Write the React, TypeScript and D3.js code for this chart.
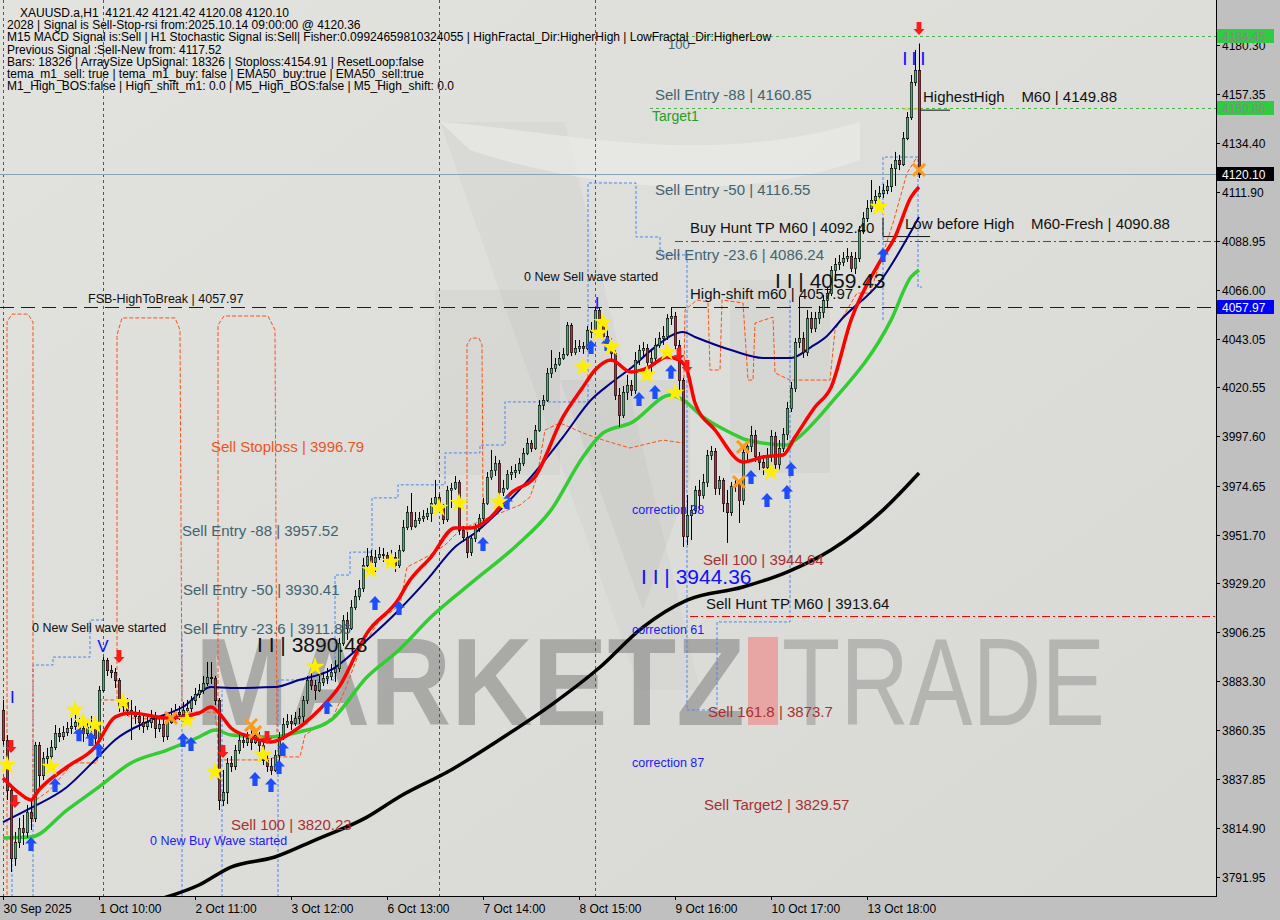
import React from 'react';
import * as d3 from 'd3';

// ---------- DATA ----------
const symbolInfo = [
  'XAUUSD.a,H1  4121.42 4121.42 4120.08 4120.10',
  '2028 | Signal is Sell-Stop-rsi from:2025.10.14 09:00:00 @ 4120.36',
  'M15 MACD Signal is:Sell | H1 Stochastic Signal is:Sell| Fisher:0.09924659810324055 | HighFractal_Dir:HigherHigh | LowFractal_Dir:HigherLow',
  'Previous Signal :Sell-New from: 4117.52',
  'Bars: 18326 | ArraySize UpSignal: 18326 | Stoploss:4154.91 | ResetLoop:false',
  'tema_m1_sell: true | tema_m1_buy: false | EMA50_buy:true | EMA50_sell:true',
  'M1_High_BOS:false | High_shift_m1: 0.0 | M5_High_BOS:false | M5_High_shift: 0.0',
];

const openFirst = 3869.9;
const closes = [
  3855.9, 3832.6, 3800.8, 3808.3, 3814.8, 3813.0, 3822.3, 3819.5, 3853.6, 3839.6,
  3847.5, 3848.4, 3852.6, 3859.2, 3857.8, 3859.6, 3861.5, 3862.4, 3864.3, 3861.5,
  3859.2, 3862.0, 3863.4, 3856.8, 3879.2, 3893.2, 3888.6, 3887.6, 3883.9, 3871.8,
  3873.6, 3869.9, 3869.0, 3867.1, 3864.3, 3862.4, 3864.3, 3866.2, 3861.5, 3863.4,
  3857.8, 3864.3, 3867.1, 3869.0, 3868.0, 3869.9, 3870.8, 3874.6, 3877.4, 3879.2,
  3882.5, 3885.3, 3884.8, 3874.6, 3827.9, 3831.6, 3845.2, 3843.8, 3851.2, 3855.9,
  3855.0, 3856.8, 3855.0, 3858.2, 3853.6, 3846.6, 3843.8, 3841.9, 3848.9, 3857.3,
  3863.4, 3864.8, 3863.8, 3866.2, 3867.1, 3874.6, 3883.9, 3881.6, 3879.2, 3883.0,
  3884.8, 3885.8, 3887.6, 3889.5, 3901.2, 3911.9, 3908.2, 3918.0, 3923.1, 3926.9,
  3937.6, 3941.8, 3939.0, 3941.3, 3942.7, 3942.3, 3939.9, 3941.3, 3937.6, 3944.6,
  3955.3, 3962.3, 3955.8, 3958.6, 3959.5, 3960.5, 3961.9, 3966.5, 3969.3, 3965.1,
  3959.1, 3972.6, 3973.5, 3976.3, 3953.9, 3950.6, 3943.6, 3950.2, 3954.8, 3959.5,
  3966.5, 3978.7, 3981.9, 3985.2, 3971.7, 3973.5, 3980.1, 3981.0, 3981.9, 3985.2,
  3989.9, 3994.5, 3992.2, 4000.6, 4012.3, 4014.6, 4027.2, 4029.5, 4031.4, 4034.2,
  4036.1, 4049.6, 4037.0, 4038.9, 4039.8, 4038.9, 4047.3, 4046.3, 4056.6, 4051.0,
  4044.5, 4041.2, 4036.5, 4016.9, 4007.6, 4018.3, 4021.6, 4019.3, 4033.3, 4037.9,
  4038.9, 4032.3, 4034.2, 4040.3, 4043.5, 4044.5, 4052.9, 4053.8, 4040.3, 4023.9,
  3951.1, 3960.9, 3963.2, 3972.6, 3970.3, 3976.3, 3988.9, 3990.8, 3973.5, 3977.3,
  3966.5, 3962.3, 3974.5, 3975.4, 3967.9, 3990.3, 3993.1, 3998.3, 3988.5, 3985.7,
  3983.3, 3988.9, 3997.8, 3984.7, 3992.2, 3998.7, 4010.9, 4020.2, 4041.7, 4043.5,
  4037.0, 4052.9, 4048.2, 4052.9, 4055.7, 4061.3, 4064.5, 4075.3, 4078.1, 4079.0,
  4080.9, 4081.8, 4076.2, 4080.9, 4093.5, 4099.5, 4104.2, 4107.9, 4109.8, 4111.2,
  4112.6, 4114.5, 4122.9, 4126.6, 4124.8, 4136.9, 4146.7, 4163.0, 4168.6, 4120.1,
];
const highs = [
  3874.6, 3858.2, 3834.9, 3813.0, 3819.5, 3820.9, 3825.6, 3827.9, 3855.0, 3855.0,
  3850.3, 3852.2, 3855.9, 3862.9, 3861.5, 3862.4, 3864.3, 3866.2, 3867.6, 3866.2,
  3864.3, 3865.2, 3867.1, 3865.2, 3881.1, 3894.6, 3894.2, 3890.9, 3889.5, 3884.8,
  3876.9, 3875.5, 3874.6, 3871.8, 3869.9, 3867.1, 3868.0, 3869.9, 3869.0, 3867.1,
  3866.2, 3867.1, 3870.8, 3872.7, 3871.8, 3873.6, 3874.6, 3876.4, 3880.2, 3882.0,
  3885.8, 3892.3, 3892.3, 3885.8, 3875.5, 3841.9, 3847.5, 3848.4, 3853.6, 3858.2,
  3857.8, 3859.6, 3860.6, 3861.5, 3859.6, 3855.9, 3850.3, 3847.5, 3851.2, 3859.6,
  3866.2, 3868.0, 3867.6, 3869.0, 3870.8, 3876.4, 3885.8, 3888.6, 3883.9, 3885.8,
  3887.6, 3889.5, 3891.4, 3893.2, 3903.5, 3914.2, 3915.6, 3921.2, 3925.9, 3930.6,
  3940.9, 3945.5, 3944.6, 3944.6, 3946.0, 3945.5, 3943.6, 3944.6, 3943.6, 3946.9,
  3958.6, 3965.1, 3971.2, 3962.3, 3962.3, 3963.2, 3964.2, 3968.9, 3977.3, 3970.7,
  3966.1, 3974.5, 3975.9, 3979.1, 3977.3, 3955.8, 3953.0, 3951.6, 3956.7, 3961.4,
  3968.9, 3981.0, 3991.3, 3988.5, 3986.6, 3977.3, 3981.9, 3983.8, 3984.7, 3987.5,
  3992.2, 3996.9, 3995.9, 4002.9, 4014.6, 4016.9, 4029.5, 4037.9, 4034.2, 4037.0,
  4038.9, 4051.0, 4050.5, 4042.6, 4042.6, 4041.7, 4049.1, 4051.0, 4058.0, 4057.5,
  4052.9, 4047.3, 4043.5, 4037.9, 4020.2, 4021.1, 4026.3, 4023.9, 4037.0, 4040.3,
  4041.7, 4040.7, 4037.9, 4043.5, 4046.3, 4049.1, 4054.7, 4058.0, 4055.7, 4042.6,
  4024.9, 3970.3, 3965.6, 3974.5, 3977.3, 3980.1, 3991.3, 3993.1, 3992.2, 3979.1,
  3978.2, 3972.6, 3976.3, 3978.2, 3977.3, 3992.2, 3995.9, 4002.5, 4000.6, 3990.3,
  3988.9, 3992.2, 4000.6, 3999.7, 3995.9, 4001.5, 4013.7, 4023.0, 4043.5, 4062.7,
  4046.3, 4056.6, 4055.7, 4055.7, 4058.5, 4063.6, 4066.9, 4077.1, 4080.9, 4082.3,
  4083.7, 4085.5, 4083.7, 4083.7, 4095.8, 4102.3, 4107.9, 4117.3, 4112.6, 4114.5,
  4115.4, 4117.3, 4124.8, 4130.4, 4129.0, 4139.7, 4149.0, 4166.3, 4178.0, 4181.0,
];
const lows = [
  3853.6, 3827.9, 3794.3, 3797.1, 3805.5, 3806.9, 3810.2, 3813.9, 3817.6, 3832.6,
  3837.2, 3844.2, 3846.6, 3851.2, 3855.0, 3855.9, 3857.8, 3858.7, 3860.6, 3858.2,
  3855.0, 3857.8, 3859.6, 3853.6, 3855.0, 3878.3, 3885.8, 3884.8, 3880.2, 3869.0,
  3869.0, 3867.1, 3855.9, 3863.4, 3860.6, 3859.2, 3860.6, 3861.5, 3856.8, 3859.6,
  3855.0, 3855.9, 3863.4, 3865.2, 3865.2, 3864.3, 3867.1, 3869.0, 3872.2, 3875.5,
  3877.4, 3881.1, 3882.0, 3872.2, 3823.2, 3825.1, 3826.0, 3841.0, 3841.9, 3849.4,
  3852.2, 3853.1, 3851.2, 3854.0, 3850.3, 3844.2, 3841.0, 3839.6, 3841.0, 3845.6,
  3855.9, 3861.5, 3860.6, 3862.4, 3863.4, 3862.4, 3872.7, 3879.2, 3874.6, 3878.3,
  3881.1, 3882.0, 3883.9, 3883.0, 3887.6, 3899.8, 3902.6, 3907.2, 3916.6, 3921.2,
  3925.0, 3934.3, 3936.2, 3934.3, 3939.9, 3939.0, 3937.1, 3938.1, 3934.3, 3936.2,
  3943.6, 3953.9, 3953.9, 3954.9, 3956.7, 3957.7, 3958.6, 3957.7, 3965.1, 3962.3,
  3956.7, 3957.7, 3964.2, 3972.6, 3951.6, 3948.3, 3940.8, 3941.8, 3948.3, 3953.0,
  3957.7, 3965.6, 3977.3, 3979.1, 3968.9, 3969.8, 3972.6, 3977.3, 3978.2, 3980.1,
  3983.8, 3988.9, 3990.3, 3991.3, 3999.7, 4009.9, 4013.7, 4024.9, 4027.7, 4030.5,
  4033.3, 4035.1, 4035.1, 4035.6, 4037.0, 4036.1, 4037.9, 4043.5, 4044.9, 4048.2,
  4042.6, 4038.9, 4032.3, 4014.6, 4002.0, 4006.2, 4014.6, 4016.5, 4017.4, 4030.9,
  4035.1, 4029.5, 4027.7, 4030.9, 4038.9, 4040.3, 4042.6, 4049.6, 4037.9, 4018.3,
  3946.0, 3946.9, 3949.2, 3961.4, 3963.2, 3968.5, 3974.0, 3986.6, 3970.3, 3970.3,
  3962.3, 3947.9, 3960.5, 3971.7, 3957.2, 3965.6, 3985.7, 3990.3, 3985.7, 3981.9,
  3979.6, 3981.9, 3985.7, 3981.9, 3981.9, 3990.3, 3995.9, 4009.0, 4018.3, 4038.9,
  4034.2, 4035.1, 4045.9, 4046.3, 4050.1, 4052.9, 4057.5, 4063.1, 4073.4, 4075.3,
  4077.1, 4079.0, 4074.3, 4073.4, 4079.0, 4092.1, 4097.7, 4102.3, 4105.1, 4107.0,
  4108.9, 4110.7, 4111.7, 4114.5, 4121.9, 4123.8, 4135.9, 4145.3, 4161.2, 4118.2,
];

const dateTickBars = [0, 24, 48, 72, 96, 120, 144, 168, 192, 216];
const dateTickLabels = ['30 Sep 2025', '1 Oct 10:00', '2 Oct 11:00', '3 Oct 12:00', '6 Oct 13:00',
  '7 Oct 14:00', '8 Oct 15:00', '9 Oct 16:00', '10 Oct 17:00', '13 Oct 18:00'];

const priceTicks = [4180.30, 4157.35, 4134.40, 4111.90, 4088.95, 4066.00, 4043.05, 4020.55, 3997.60,
  3974.65, 3951.70, 3929.20, 3906.25, 3883.30, 3860.35, 3837.85, 3814.90, 3791.95];

// moving averages: [bar, price]
const redMA: [number, number][] = [[0,3838.2],[4,3831.2],[7,3827.9],[9,3832.6],[16,3843.3],[23,3852.6],[28,3866.6],[32,3868.5],[41,3866.2],[49,3868.5],[52,3871.3],[54,3868.5],[57,3861.5],[62,3857.3],[67,3855.0],[72,3859.2],[79,3869.9],[84,3880.6],[91,3905.8],[99,3922.0],[101,3928.5],[107,3941.3],[113,3954.9],[117,3954.9],[122,3960.0],[127,3971.2],[133,3978.7],[140,4006.7],[145,4020.7],[148,4028.6],[152,4033.3],[157,4027.7],[161,4029.5],[166,4034.7],[169,4033.3],[171,4028.6],[173,4013.2],[178,4000.6],[185,3985.7],[190,3988.0],[195,3988.9],[198,3997.3],[203,4011.3],[207,4020.5],[212,4051.9],[219,4078.5],[223,4090.7],[227,4109.3],[229,4114.0]];
const navyMA: [number, number][] = [[0,3817.6],[7,3824.2],[16,3834.0],[23,3846.6],[28,3855.9],[37,3865.2],[45,3871.3],[52,3880.6],[57,3880.2],[68,3880.6],[74,3883.9],[82,3888.6],[91,3902.6],[99,3916.6],[106,3930.6],[113,3946.0],[118,3952.5],[125,3964.6],[132,3978.7],[140,3997.3],[147,4014.6],[152,4022.5],[157,4029.5],[163,4039.3],[170,4046.3],[173,4044.0],[182,4037.9],[190,4034.2],[197,4034.2],[202,4039.3],[206,4044.5],[210,4053.0],[219,4069.2],[229,4100.0]];
const greenMA: [number, number][] = [[0,3810.2],[7,3810.6],[16,3823.2],[24,3834.0],[32,3845.2],[41,3851.2],[49,3857.3],[53,3860.6],[57,3858.2],[66,3857.3],[74,3859.6],[82,3865.2],[91,3885.3],[99,3897.9],[107,3913.3],[118,3930.6],[128,3946.0],[137,3963.2],[145,3988.0],[150,3999.2],[157,4003.9],[167,4016.9],[170,4014.6],[175,4006.7],[182,3999.2],[186,3995.9],[196,3993.6],[198,3995.9],[207,4013.2],[222,4051.9],[227,4072.0],[229,4075.3]];
const blackMA: [number, number][] = [[38,3781.0],[49,3788.2],[57,3796.6],[68,3801.3],[78,3809.2],[91,3819.9],[99,3829.3],[112,3841.9],[124,3855.9],[137,3872.2],[149,3889.5],[160,3908.6],[171,3921.2],[185,3927.3],[196,3934.3],[207,3944.6],[220,3963.2],[229,3980.5]];

// dashed channel indicators: [bar, price]
const orangeArches: [number, number][][] = [
  [[1,3783.5],[1,4051.0],[2.25,4054.7],[6.25,4054.7],[7.5,4051.0],[7.5,3817.6]],
  [[28.5,3874.6],[28.5,4044.9],[29.75,4052.9],[43,4052.9],[44.25,4047.3],[44.75,3869.9]],
  [[53.75,3837.2],[53.75,4049.6],[55.25,4053.8],[66.25,4053.8],[68,4047.3],[68.5,3855.9]],
  [[116,3952.5],[116,4040.3],[117,4043.5],[119,4043.5],[119.75,4040.3],[120,3963.2]],
];
const orangeLower: [number, number][] = [[8.25,3827.9],[11.75,3832.6],[17.5,3845.2],[23.5,3845.2],[24.25,3874.6],[28.5,3874.6],[31.75,3866.2],[41.75,3865.2],[44.75,3868.9],[53,3868.9],[54.25,3846.6],[64.25,3846.6],[69.25,3848.0],[74.25,3848.0],[75.5,3858.2],[82.5,3866.6],[85.5,3879.2],[89.25,3897.9],[94.25,3911.9],[99.25,3918.9],[101,3936.6],[106.75,3942.2],[110.5,3946.9],[114.25,3953.9],[120,3958.6],[129.25,3965.6],[131.75,3969.3],[133.5,3978.7],[135.5,4000.6],[139.25,4003.9],[145,3999.2],[150,3995.9],[156.75,3992.2],[165,3995.9],[170,3994.5],[170.5,4056.6],[173.5,4061.3],[176.25,4060.3],[176.75,4028.6],[179.25,4028.6],[179.75,4061.3],[185,4059.9],[186.25,4023.9],[187.5,4023.9],[188,4050.5],[192.5,4053.3],[193,4027.2],[196.75,4023.9],[206.75,4023.9],[208,4047.3],[213.5,4064.5],[216.75,4064.5],[222.5,4097.2],[226,4120.5],[228.5,4128.0]];
const blueSteps: [number, number][][] = [
  [[2.25,3782.6],[2.25,3820.0]],
  [[7.5,3782.6],[7.5,3890.9],[12.5,3890.9],[12.5,3894.6],[21.75,3894.6],[21.75,3911.9],[25,3911.9]],
  [[44.75,3782.6],[44.75,3905.8]],
  [[54.75,3782.6],[54.75,3879.0]],
  [[68.75,3782.6],[68.75,3883.9],[83,3883.9],[83,3932.9],[86.75,3932.9],[86.75,3943.6],[92.25,3943.6],[92.25,3968.9],[98.75,3968.9],[98.75,3975.0],[110.5,3975.0],[110.5,3989.9],[119.25,3989.9],[119.25,3993.6],[125.5,3993.6],[125.5,4013.7],[146.25,4013.7],[146.25,4115.9],[158.25,4115.9],[158.25,4090.7],[164.25,4090.7],[164.25,4082.3],[171,4082.3],[171,3869.9],[178.5,3869.9],[178.5,3911.0],[196.75,3911.0],[196.75,4061.3]],
  [[220,4051.9],[220,4128.0],[228.75,4128.0],[228.75,4067.3],[229.75,4067.3]],
];
const separatorBars = [0, 25, 109, 148];

// signal markers: [bar, price]
const starMarks: [number, number][] = [[1,3844.2],[12,3843.3],[18,3869.9],[20,3864.3],[23,3862.9],[30,3873.6],[46,3865.2],[53,3841.0],[65,3848.9],[78,3890.0],[92,3935.2],[97,3939.0],[109,3964.2],[114,3966.5],[124,3967.0],[145,4030.0],[149,4045.9],[150,4051.0],[152,4039.3],[161,4026.3],[166,4037.0],[168,4017.9],[192,3981.0],[219,4104.7]];
const buyArrows: [number, number][] = [[7,3810.6],[13,3838.2],[19,3861.9],[22,3859.6],[24,3854.5],[45,3859.2],[47,3857.3],[63,3841.0],[67,3838.2],[69,3846.6],[70,3855.0],[81,3874.6],[93,3923.1],[99,3920.8],[120,3950.6],[126,3970.3],[147,4042.6],[151,4044.0],[159,4018.3],[163,4021.6],[167,4031.0],[187,3981.9],[191,3971.2],[196,3974.9],[197,3985.7],[220,4085.5]];
const sellArrows: [number, number][] = [[2,3855.9],[3,3830.2],[29,3897.9],[55,3853.6],[66,3860.1],[169,4038.9],[171,4033.3],[229,4191.0]];
const crossMarks: [number, number][] = [[42,3866.2],[62,3862.9],[63,3859.6],[184,3976.3],[185,3992.7],[229,4122.0]];

// horizontal levels
const fsbLevel = 4057.97;
const currentPrice = 4120.10;
const targetLevels = [4184.45, 4150.86];
const huntTPLevels = [4089.0, 3913.64];
const priceBoxValues = [4184.45, 4150.86, 4120.10, 4057.97];

// annotations: [text, bar, price(baseline), kind]
const annotations: [string, number, number, string][] = [
  ['Sell Entry -88 | 4160.85', 163, 4154.6, 'entry'],
  ['Target1', 162.25, 4144.8, 'target'],
  ['100', 166.25, 4178.4, 'entrySmall'],
  ['Sell Entry -50 | 4116.55', 163, 4110.3, 'entry'],
  ['Buy Hunt TP M60 | 4092.40', 171.75, 4092.5, 'black'],
  ['Low before High    M60-Fresh | 4090.88', 225.5, 4094.4, 'black'],
  ['HighestHigh    M60 | 4149.88', 230, 4153.7, 'black'],
  ['Sell Entry -23.6 | 4086.24', 163, 4079.9, 'entry'],
  ['0 New Sell wave started', 130.25, 4070.1, 'smallBlack'],
  ['I I | 4059.43', 193, 4066.9, 'bigBlack'],
  ['High-shift m60 | 4057.97', 171.75, 4061.7, 'black'],
  ['FSB-HighToBreak | 4057.97', 21.25, 4059.9, 'smallBlack'],
  ['Sell Stoploss | 3996.79', 52, 3990.3, 'stop'],
  ['Sell Entry -88 | 3957.52', 44.75, 3951.1, 'entry'],
  ['correction 38', 157.25, 3961.4, 'smallBlue'],
  ['Sell 100 | 3944.64', 175, 3937.6, 'sell'],
  ['I I | 3944.36', 159.5, 3928.7, 'bigBlue'],
  ['Sell Entry -50 | 3930.41', 45, 3923.6, 'entry'],
  ['Sell Hunt TP M60 | 3913.64', 175.75, 3917.0, 'black'],
  ['0 New Sell wave started', 7.25, 3906.3, 'smallBlack'],
  ['Sell Entry -23.6 | 3911.86', 45, 3905.4, 'entry'],
  ['I I | 3890.48', 63.5, 3897.0, 'bigBlack'],
  ['correction 61', 157.25, 3905.4, 'smallBlue'],
  ['Sell 161.8 | 3873.7', 176.25, 3866.6, 'sell'],
  ['correction 87', 157.25, 3843.3, 'smallBlue'],
  ['Sell Target2 | 3829.57', 175.25, 3823.2, 'sell'],
  ['Sell 100 | 3820.23', 57, 3813.9, 'sell'],
  ['0 New Buy Wave started', 36.75, 3806.9, 'smallBlue'],
];

// ---------- LAYOUT ----------
const W = 1280, H = 920;
const PR = 1216, PB = 896;
const FONT = '"Liberation Sans", Arial, sans-serif';

const styleOf: Record<string, { fill: string; size: number }> = {
  entry: { fill: '#3f6470', size: 15 },
  entrySmall: { fill: '#3f6470', size: 13 },
  target: { fill: '#23a023', size: 14 },
  black: { fill: '#111', size: 15 },
  smallBlack: { fill: '#111', size: 12.5 },
  bigBlack: { fill: '#111', size: 21 },
  bigBlue: { fill: '#1010ff', size: 21 },
  smallBlue: { fill: '#1a1aff', size: 12.5 },
  stop: { fill: '#f0541e', size: 15 },
  sell: { fill: '#a83030', size: 15 },
};
const boxColors: Record<number, [string, string]> = {
  4184.45: ['#2ecc40', '#7f8f7f'],
  4150.86: ['#2ecc40', '#7f8f7f'],
  4120.10: ['#000000', '#ffffff'],
  4057.97: ['#0000ff', '#ffffff'],
};

export default function App() {
  const x = d3.scaleLinear().domain([0, 229]).range([3, 919]);
  const y = d3.scaleLinear().domain([3791.95, 4180.30]).range([877, 45]);

  const candles = closes.map((c, i) => {
    const o = i === 0 ? openFirst : closes[i - 1];
    return { i, o, c, h: Math.max(highs[i], o, c), l: Math.min(lows[i], o, c) };
  });

  const smooth = d3.line<[number, number]>().x(d => x(d[0])).y(d => y(d[1])).curve(d3.curveMonotoneX);
  const poly = d3.line<[number, number]>().x(d => x(d[0])).y(d => y(d[1]));

  const starPath = d3.symbol().type(d3.symbolStar).size(115)() as string;
  const upArrow = 'M0,0 L6,6.5 L2.6,6.5 L2.6,14 L-2.6,14 L-2.6,6.5 L-6,6.5 Z';
  const downArrow = 'M0,13 L5.5,7 L2.4,7 L2.4,0 L-2.4,0 L-2.4,7 L-5.5,7 Z';

  return (
    <svg width={W} height={H} viewBox={`0 0 ${W} ${H}`}
      style={{ position: 'absolute', left: 0, top: 0, display: 'block' }}
      fontFamily={FONT}>
      <defs>
        <clipPath id="plot"><rect x={0} y={0} width={PR} height={PB} /></clipPath>
        <linearGradient id="bg" x1="0" y1="0" x2="1" y2="1">
          <stop offset="0" stopColor="#e2e2df" />
          <stop offset="1" stopColor="#d8d8d4" />
        </linearGradient>
      </defs>
      <rect x={0} y={0} width={W} height={H} fill="#c0c0c0" />
      <rect x={0} y={0} width={PR} height={PB} fill="url(#bg)" />

      <g clipPath="url(#plot)">
        {/* watermark */}
        <g>
          <polygon points="440,122 565,122 700,690 640,690" fill="#cfcfcc" opacity={0.4} />
          <path d="M440,122 C560,130 700,170 860,122 L860,160 C720,210 560,180 470,150 Z" fill="#ececea" opacity={0.6} />
          <rect x={435} y={290} width={125} height={185} fill="#000" opacity={0.03} />
          <rect x={730} y={280} width={100} height={193} fill="#000" opacity={0.03} />
          <polygon points="560,380 643,610 690,480 690,380" fill="#000" opacity={0.035} />
          <text x={195} y={725} fontSize={124} fontWeight="bold" fill="#444" opacity={0.33}
            textLength={550} lengthAdjust="spacingAndGlyphs">MARKETZ</text>
          <rect x={748} y={637} width={30} height={88} fill="#ff4444" opacity={0.35} />
          <text x={782} y={725} fontSize={124} fill="#555" opacity={0.28}
            textLength={323} lengthAdjust="spacingAndGlyphs">TRADE</text>
        </g>

        {/* separators */}
        {separatorBars.map(b => (
          <line key={'sep' + b} x1={x(b) + 0.5} x2={x(b) + 0.5} y1={0} y2={PB} stroke="#c0187a" strokeDasharray="3,3" />
        ))}

        {/* dashed channels */}
        {blueSteps.map((p, k) => (
          <path key={'bs' + k} d={poly(p) as string} fill="none" stroke="#4a86f0" strokeWidth={1} strokeDasharray="3,2" />
        ))}
        {orangeArches.map((p, k) => (
          <path key={'oa' + k} d={poly(p) as string}
            fill="none" stroke="#ff5010" strokeWidth={1} strokeDasharray="4,2" />
        ))}
        <path d={poly(orangeLower) as string} fill="none" stroke="#ff5010" strokeWidth={1} strokeDasharray="4,2" />

        {/* horizontal levels */}
        {targetLevels.map(v => (
          <line key={'tl' + v} x1={650} x2={PR} y1={Math.round(y(v)) + 0.5} y2={Math.round(y(v)) + 0.5} stroke="#4cb04c" strokeDasharray="3,3" />
        ))}
        <line x1={0} x2={PR} y1={Math.round(y(currentPrice)) + 0.5} y2={Math.round(y(currentPrice)) + 0.5} stroke="#8aa3b3" />
        {huntTPLevels.map((v, k) => (
          <line key={'ht' + v} x1={k === 0 ? 675 : 690} x2={PR} y1={Math.round(y(v)) + 0.5} y2={Math.round(y(v)) + 0.5}
            stroke="#ff0000" strokeDasharray="8,3,2,3" />
        ))}
        <line x1={0} x2={PR} y1={Math.round(y(fsbLevel)) + 0.5} y2={Math.round(y(fsbLevel)) + 0.5} stroke="#0000ff" strokeDasharray="14,7" />
        <line x1={920} x2={950} y1={y(4149.88)} y2={y(4149.88)} stroke="#111" />
        <line x1={903} x2={920} y1={y(4150.3)} y2={y(4150.3)} stroke="#e6d800" strokeWidth={1.5} />
        <path d={`M${x(220)},${y(4099.5)} V${y(4090.88)} H930`} fill="none" stroke="#111" />

        {/* moving averages */}
        <path d={smooth(blackMA) as string} fill="none" stroke="#000" strokeWidth={3.5} />
        <path d={smooth(greenMA) as string} fill="none" stroke="#33cc33" strokeWidth={3.5} />
        <path d={smooth(navyMA) as string} fill="none" stroke="#00008b" strokeWidth={2} />

        {/* candles */}
        {candles.map(d => {
          const cx = Math.round(x(d.i));
          const top = Math.round(y(Math.max(d.o, d.c)));
          const bot = Math.round(y(Math.min(d.o, d.c)));
          const up = d.c >= d.o;
          const bh = Math.max(bot - top, 1);
          return (
            <g key={'c' + d.i}>
              <line x1={cx + 0.5} x2={cx + 0.5} y1={y(d.h)} y2={y(d.l)} stroke="#000" />
              <rect x={cx - 0.7} y={top + 0.3} width={2.4} height={bh + 0.4}
                fill={up ? '#3cb371' : '#c0283a'} stroke="#000" strokeWidth={0.6} />
            </g>
          );
        })}

        <path d={smooth(redMA) as string} fill="none" stroke="#ff0000" strokeWidth={3.5} />

        {/* markers */}
        {crossMarks.map(([b, p], k) => (
          <g key={'x' + k} transform={`translate(${x(b)},${y(p)})`} stroke="#ff9a1a" strokeWidth={3}>
            <line x1={-6} y1={-6} x2={6} y2={6} /><line x1={-6} y1={6} x2={6} y2={-6} />
          </g>
        ))}
        {buyArrows.map(([b, p], k) => (
          <path key={'ba' + k} d={upArrow} transform={`translate(${x(b)},${y(p)})`} fill="#1e4dff" />
        ))}
        {sellArrows.map(([b, p], k) => (
          <path key={'sa' + k} d={downArrow} transform={`translate(${x(b)},${y(p)})`} fill="#ff1a1a" />
        ))}
        {starMarks.map(([b, p], k) => (
          <path key={'st' + k} d={starPath} transform={`translate(${x(b)},${y(p)})`} fill="#ffee00" />
        ))}
        <text x={x(1.75)} y={y(3873)} fontSize={17} fill="#1010ff">I</text>
        <text x={x(25)} y={y(3897)} fontSize={17} fill="#1010ff" textAnchor="middle">V</text>
        <text x={x(148.5)} y={y(4057)} fontSize={17} fill="#1010ff" textAnchor="middle">I</text>
        {[225.5, 227.75, 230].map(b => (
          <text key={'ti' + b} x={x(b)} y={y(4171)} fontSize={19} fill="#1010ff" textAnchor="middle">I</text>
        ))}

        {/* annotations */}
        {annotations.map(([t, b, p, kind], k) => (
          <text key={'an' + k} x={x(b)} y={y(p)} fontSize={styleOf[kind].size} fill={styleOf[kind].fill}
            style={{ whiteSpace: 'pre' }}>{t}</text>
        ))}

        {/* info block */}
        {symbolInfo.map((t, k) => (
          <text key={'inf' + k} x={k === 0 ? 20 : 7} y={17 + k * 12.2} fontSize={12} fill="#000"
            style={{ whiteSpace: 'pre' }}>{t}</text>
        ))}
      </g>

      {/* frame */}
      <line x1={PR + 0.5} x2={PR + 0.5} y1={0} y2={PB + 1} stroke="#000" />
      <line x1={0} x2={PR + 1} y1={PB + 0.5} y2={PB + 0.5} stroke="#000" />

      {/* price axis */}
      {priceTicks.map(v => {
        const yy = Math.round(y(v)) + 0.5;
        return (
          <g key={'pt' + v}>
            <line x1={PR} x2={PR + 4} y1={yy} y2={yy} stroke="#000" />
            <text x={1222} y={yy + 4.5} fontSize={12} fill="#000">{v.toFixed(2)}</text>
          </g>
        );
      })}
      {priceBoxValues.map(v => {
        const yy = Math.round(y(v));
        const [bg, fg] = boxColors[v];
        return (
          <g key={'pb' + v}>
            <rect x={PR + 1} y={yy - 7} width={57} height={14} fill={bg} />
            <text x={1222} y={yy + 4.5} fontSize={12} fill={fg}>{v.toFixed(2)}</text>
          </g>
        );
      })}

      {/* time axis */}
      {dateTickBars.map((b, k) => {
        const xx = Math.round(x(b)) + 0.5;
        return (
          <g key={'dt' + b}>
            <line x1={xx} x2={xx} y1={PB} y2={PB + 4} stroke="#000" />
            <text x={xx} y={913} fontSize={12} fill="#000">{dateTickLabels[k]}</text>
          </g>
        );
      })}
    </svg>
  );
}
